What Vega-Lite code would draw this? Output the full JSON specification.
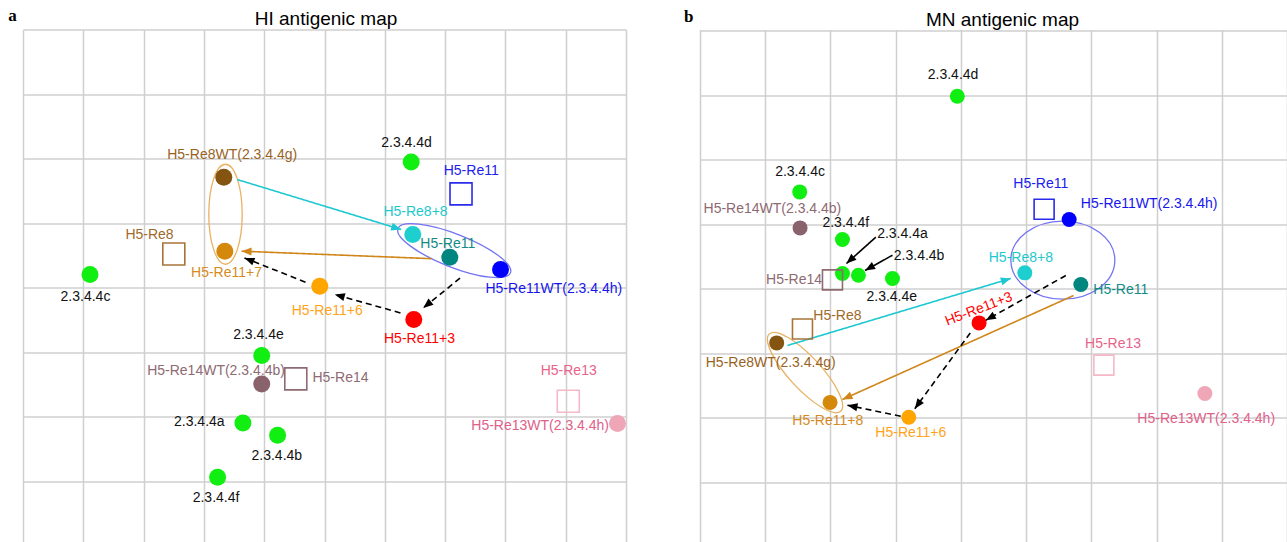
{
  "$schema": "https://vega.github.io/schema/vega-lite/v6.json",
  "background": "white",
  "padding": {"left": 8, "top": 6.5, "right": 0, "bottom": 0},
  "bounds": "flush",
  "spacing": 74,
  "config": {
    "view": {"stroke": null},
    "font": "Liberation Sans",
    "axis": {"labels": false, "ticks": false, "domain": false, "title": null, "gridColor": "#CFCFCF", "gridWidth": 1.5, "gridOpacity": 1}
  },
  "datasets": {
    "pa": [
      {"name": "2.3.4.4c", "kind": "antigen", "grp": "clade", "x": 1.111, "y": 3.798, "lx": 1.036, "ly": 4.146},
      {"name": "H5-Re8WT(2.3.4.4g)", "kind": "antigen", "grp": "Re8WT", "x": 3.330, "y": 2.290, "lx": 3.469, "ly": 1.938},
      {"name": "H5-Re11+7", "kind": "antigen", "grp": "Re11p7", "x": 3.347, "y": 3.437, "lx": 3.375, "ly": 3.774},
      {"name": "H5-Re8", "kind": "serum", "grp": "Re8", "x": 2.501, "y": 3.481, "lx": 2.098, "ly": 3.189},
      {"name": "2.3.4.4d", "kind": "antigen", "grp": "clade", "x": 6.438, "y": 2.053, "lx": 6.360, "ly": 1.758},
      {"name": "H5-Re11", "kind": "serum", "grp": "Re11sq", "x": 7.264, "y": 2.549, "lx": 7.433, "ly": 2.197},
      {"name": "H5-Re8+8", "kind": "antigen", "grp": "Re8p8", "x": 6.464, "y": 3.178, "lx": 6.509, "ly": 2.828},
      {"name": "H5-Re11", "kind": "antigen", "grp": "Re11", "x": 7.078, "y": 3.530, "lx": 7.045, "ly": 3.333},
      {"name": "H5-Re11WT(2.3.4.4h)", "kind": "antigen", "grp": "Re11WT", "x": 7.919, "y": 3.721, "lx": 8.803, "ly": 4.031},
      {"name": "H5-Re11+6", "kind": "antigen", "grp": "Re11p6", "x": 4.922, "y": 3.980, "lx": 5.045, "ly": 4.367},
      {"name": "H5-Re11+3", "kind": "antigen", "grp": "Re11p3", "x": 6.481, "y": 4.496, "lx": 6.575, "ly": 4.791},
      {"name": "2.3.4.4e", "kind": "antigen", "grp": "clade", "x": 3.959, "y": 5.054, "lx": 3.905, "ly": 4.729},
      {"name": "H5-Re14WT(2.3.4.4b)", "kind": "antigen", "grp": "Re14WT", "x": 3.959, "y": 5.495, "lx": 3.201, "ly": 5.287},
      {"name": "H5-Re14", "kind": "serum", "grp": "Re14sq", "x": 4.524, "y": 5.417, "lx": 5.265, "ly": 5.402},
      {"name": "H5-Re13", "kind": "serum", "grp": "Re13sq", "x": 9.043, "y": 5.763, "lx": 9.050, "ly": 5.298},
      {"name": "H5-Re13WT(2.3.4.4h)", "kind": "antigen", "grp": "Re13WT", "x": 9.859, "y": 6.109, "lx": 8.576, "ly": 6.140},
      {"name": "2.3.4.4a", "kind": "antigen", "grp": "clade", "x": 3.647, "y": 6.099, "lx": 2.924, "ly": 6.088},
      {"name": "2.3.4.4b", "kind": "antigen", "grp": "clade", "x": 4.222, "y": 6.290, "lx": 4.209, "ly": 6.616},
      {"name": "2.3.4.4f", "kind": "antigen", "grp": "clade", "x": 3.227, "y": 6.941, "lx": 3.201, "ly": 7.262}
    ],
    "pb": [
      {"name": "2.3.4.4d", "kind": "antigen", "grp": "clade", "x": 3.945, "y": 1.011, "lx": 3.880, "ly": 0.685},
      {"name": "2.3.4.4c", "kind": "antigen", "grp": "clade", "x": 1.529, "y": 2.495, "lx": 1.534, "ly": 2.184},
      {"name": "H5-Re14WT(2.3.4.4b)", "kind": "antigen", "grp": "Re14WT", "x": 1.534, "y": 3.053, "lx": 1.110, "ly": 2.767},
      {"name": "2.3.4.4f", "kind": "antigen", "grp": "clade", "x": 2.184, "y": 3.233, "lx": 2.235, "ly": 2.975},
      {"name": "2.3.4.4a", "kind": "antigen", "grp": "clade", "x": 2.184, "y": 3.760, "lx": 3.104, "ly": 3.155},
      {"name": "2.3.4.4b", "kind": "antigen", "grp": "clade", "x": 2.429, "y": 3.786, "lx": 3.359, "ly": 3.491},
      {"name": "2.3.4.4e", "kind": "antigen", "grp": "clade", "x": 2.951, "y": 3.837, "lx": 2.940, "ly": 4.127},
      {"name": "H5-Re14", "kind": "serum", "grp": "Re14sq", "x": 2.031, "y": 3.859, "lx": 1.442, "ly": 3.853},
      {"name": "H5-Re11", "kind": "serum", "grp": "Re11sq", "x": 5.276, "y": 2.763, "lx": 5.225, "ly": 2.371},
      {"name": "H5-Re11WT(2.3.4.4h)", "kind": "antigen", "grp": "Re11WT", "x": 5.660, "y": 2.922, "lx": 6.887, "ly": 2.690},
      {"name": "H5-Re8+8", "kind": "antigen", "grp": "Re8p8", "x": 4.980, "y": 3.750, "lx": 4.919, "ly": 3.527},
      {"name": "H5-Re11", "kind": "antigen", "grp": "Re11", "x": 5.839, "y": 3.930, "lx": 6.452, "ly": 4.008},
      {"name": "H5-Re11+3", "kind": "antigen", "grp": "Re11p3", "x": 4.279, "y": 4.526, "lx": 4.275, "ly": 4.313},
      {"name": "H5-Re8", "kind": "serum", "grp": "Re8", "x": 1.571, "y": 4.620, "lx": 2.107, "ly": 4.422},
      {"name": "H5-Re8WT(2.3.4.4g)", "kind": "antigen", "grp": "Re8WT", "x": 1.176, "y": 4.836, "lx": 1.084, "ly": 5.146},
      {"name": "H5-Re11+8", "kind": "antigen", "grp": "Re11p7", "x": 1.994, "y": 5.758, "lx": 1.959, "ly": 6.054},
      {"name": "H5-Re11+6", "kind": "antigen", "grp": "Re11p6", "x": 3.201, "y": 5.988, "lx": 3.232, "ly": 6.228},
      {"name": "H5-Re13", "kind": "serum", "grp": "Re13sq", "x": 6.192, "y": 5.181, "lx": 6.333, "ly": 4.851},
      {"name": "H5-Re13WT(2.3.4.4h)", "kind": "antigen", "grp": "Re13WT", "x": 7.741, "y": 5.620, "lx": 7.761, "ly": 6.008}
    ],
    "tag_a": [{"tag": "a", "x": -0.174, "y": -0.129}],
    "tag_b": [{"tag": "b", "x": -0.173, "y": -0.144}],
    "arrows_a": [
      {"kind": "re8", "fx": 3.552, "fy": 2.326, "tx": 6.272, "ty": 3.101},
      {"kind": "re11", "fx": 6.774, "fy": 3.553, "tx": 3.624, "ty": 3.437},
      {"kind": "passage", "fx": 7.247, "fy": 3.856, "tx": 6.637, "ty": 4.316},
      {"kind": "passage", "fx": 6.260, "fy": 4.394, "tx": 5.171, "ty": 4.109},
      {"kind": "passage", "fx": 4.685, "fy": 3.918, "tx": 3.673, "ty": 3.541}
    ],
    "arrows_b": [
      {"kind": "re8", "fx": 1.340, "fy": 4.876, "tx": 4.765, "ty": 3.837},
      {"kind": "re11", "fx": 5.727, "fy": 4.101, "tx": 2.184, "ty": 5.713},
      {"kind": "passage", "fx": 5.609, "fy": 3.791, "tx": 4.382, "ty": 4.484},
      {"kind": "passage", "fx": 4.144, "fy": 4.681, "tx": 3.293, "ty": 5.856},
      {"kind": "passage", "fx": 3.078, "fy": 5.972, "tx": 2.261, "ty": 5.802},
      {"kind": "pointer", "fx": 2.695, "fy": 3.197, "tx": 2.245, "ty": 3.605},
      {"kind": "pointer", "fx": 2.951, "fy": 3.476, "tx": 2.531, "ty": 3.713}
    ],
    "rings_a": [
      {"ring": "Re8 group", "x": 3.358, "y": 2.864},
      {"ring": "Re11 group", "x": 7.151, "y": 3.429}
    ],
    "rings_b": [
      {"ring": "Re11 group", "x": 5.563, "y": 3.553},
      {"ring": "Re8 group", "x": 1.610, "y": 5.295}
    ]
  },
  "hconcat": [
    {
      "width": 603,
      "height": 516,
      "title": {"text": "HI antigenic map", "fontSize": 19, "font": "Liberation Sans", "fontWeight": "normal", "color": "#000000", "frame": "group", "baseline": "alphabetic", "offset": 0, "dx": 1.5, "dy": 37.2},
      "resolve": {"scale": {"fill": "independent", "stroke": "independent", "color": "independent", "strokeDash": "independent"}},
      "layer": [
        {
          "data": {"name": "rings_a"},
          "transform": [{"filter": "datum.ring === 'Re8 group'"}],
          "mark": {"type": "point", "shape": "M-1,0C-1,-0.1845 -0.5523,-0.334 0,-0.334C0.5523,-0.334 1,-0.1845 1,0C1,0.1845 0.5523,0.334 0,0.334C-0.5523,0.334 -1,0.1845 -1,0Z", "size": 10000, "angle": 90, "filled": false, "stroke": "#E9B262", "strokeWidth": 1.3, "opacity": 1},
          "encoding": {
            "x": {"field": "x", "type": "quantitative", "scale": {"domain": [0, 10], "nice": false, "zero": false}, "axis": {"values": [0, 1, 2, 3, 4, 5, 6, 7, 8, 9, 10], "grid": true}},
            "y": {"field": "y", "type": "quantitative", "scale": {"domain": [0, 8], "nice": false, "zero": false, "reverse": true}, "axis": {"values": [0, 1, 2, 3, 4, 5, 6, 7, 8], "grid": true}}
          }
        },
        {
          "data": {"name": "rings_a"},
          "transform": [{"filter": "datum.ring === 'Re11 group'"}],
          "mark": {"type": "point", "shape": "M-1,0C-1,-0.1508 -0.5523,-0.273 0,-0.273C0.5523,-0.273 1,-0.1508 1,0C1,0.1508 0.5523,0.273 0,0.273C-0.5523,0.273 -1,0.1508 -1,0Z", "size": 14641, "angle": 21.5, "filled": false, "stroke": "#7474F2", "strokeWidth": 1.3, "opacity": 1},
          "encoding": {
            "x": {"field": "x", "type": "quantitative", "scale": {"domain": [0, 10], "nice": false, "zero": false}, "axis": {"values": [0, 1, 2, 3, 4, 5, 6, 7, 8, 9, 10], "grid": true}},
            "y": {"field": "y", "type": "quantitative", "scale": {"domain": [0, 8], "nice": false, "zero": false, "reverse": true}, "axis": {"values": [0, 1, 2, 3, 4, 5, 6, 7, 8], "grid": true}}
          }
        },
        {
          "data": {"name": "arrows_a"},
          "mark": {"type": "rule", "strokeWidth": 1.6},
          "encoding": {
            "x": {"field": "fx", "type": "quantitative", "scale": {"domain": [0, 10], "nice": false, "zero": false}, "axis": {"values": [0, 1, 2, 3, 4, 5, 6, 7, 8, 9, 10], "grid": true}},
            "y": {"field": "fy", "type": "quantitative", "scale": {"domain": [0, 8], "nice": false, "zero": false, "reverse": true}, "axis": {"values": [0, 1, 2, 3, 4, 5, 6, 7, 8], "grid": true}},
            "x2": {"field": "tx"},
            "y2": {"field": "ty"},
            "stroke": {"field": "kind", "type": "nominal", "scale": {"domain": ["passage", "re8", "re11", "pointer"], "range": ["#000000", "#1EC8D2", "#D0861A", "#000000"]}, "legend": null},
            "strokeDash": {"field": "kind", "type": "nominal", "scale": {"domain": ["passage", "re8", "re11", "pointer"], "range": [[6, 4], [1, 0], [1, 0], [1, 0]]}, "legend": null}
          }
        },
        {
          "data": {"name": "arrows_a"},
          "transform": [{"calculate": "atan2((datum.tx - datum.fx) * 60.3, -(datum.ty - datum.fy) * 64.5) * 180 / PI", "as": "ang"}],
          "mark": {"type": "point", "shape": "M0,0L-0.8,2L0.8,2Z", "size": 100, "filled": true, "strokeWidth": 0, "opacity": 1},
          "encoding": {
            "x": {"field": "tx", "type": "quantitative", "scale": {"domain": [0, 10], "nice": false, "zero": false}, "axis": {"values": [0, 1, 2, 3, 4, 5, 6, 7, 8, 9, 10], "grid": true}},
            "y": {"field": "ty", "type": "quantitative", "scale": {"domain": [0, 8], "nice": false, "zero": false, "reverse": true}, "axis": {"values": [0, 1, 2, 3, 4, 5, 6, 7, 8], "grid": true}},
            "angle": {"field": "ang", "type": "quantitative", "scale": null},
            "fill": {"field": "kind", "type": "nominal", "scale": {"domain": ["passage", "re8", "re11", "pointer"], "range": ["#000000", "#1EC8D2", "#D0861A", "#000000"]}, "legend": null}
          }
        },
        {
          "data": {"name": "pa"},
          "transform": [{"filter": "datum.kind === 'antigen'"}],
          "mark": {"type": "point", "shape": "circle", "size": 289, "filled": true, "strokeWidth": 0, "opacity": 1},
          "encoding": {
            "x": {"field": "x", "type": "quantitative", "scale": {"domain": [0, 10], "nice": false, "zero": false}, "axis": {"values": [0, 1, 2, 3, 4, 5, 6, 7, 8, 9, 10], "grid": true}},
            "y": {"field": "y", "type": "quantitative", "scale": {"domain": [0, 8], "nice": false, "zero": false, "reverse": true}, "axis": {"values": [0, 1, 2, 3, 4, 5, 6, 7, 8], "grid": true}},
            "fill": {"field": "grp", "type": "nominal", "scale": {"domain": ["clade", "Re8WT", "Re11p7", "Re11p6", "Re11p3", "Re8p8", "Re11", "Re11WT", "Re14WT", "Re13WT"], "range": ["#11EE11", "#845410", "#D4880C", "#FFA500", "#FF0000", "#1ECFCF", "#00857F", "#0000FF", "#8A626C", "#EFA6B6"]}, "legend": null}
          }
        },
        {
          "data": {"name": "pa"},
          "transform": [{"filter": "datum.kind === 'serum'"}],
          "mark": {"type": "point", "shape": "square", "size": 484, "filled": false, "strokeWidth": 1.6, "opacity": 1},
          "encoding": {
            "x": {"field": "x", "type": "quantitative", "scale": {"domain": [0, 10], "nice": false, "zero": false}, "axis": {"values": [0, 1, 2, 3, 4, 5, 6, 7, 8, 9, 10], "grid": true}},
            "y": {"field": "y", "type": "quantitative", "scale": {"domain": [0, 8], "nice": false, "zero": false, "reverse": true}, "axis": {"values": [0, 1, 2, 3, 4, 5, 6, 7, 8], "grid": true}},
            "stroke": {"field": "grp", "type": "nominal", "scale": {"domain": ["Re8", "Re11sq", "Re14sq", "Re13sq"], "range": ["#A87438", "#2B2BEE", "#8E6A72", "#F5B8C8"]}, "legend": null}
          }
        },
        {
          "data": {"name": "pa"},
          "mark": {"type": "text", "fontSize": 14, "font": "Liberation Sans", "align": "center", "baseline": "middle"},
          "encoding": {
            "x": {"field": "lx", "type": "quantitative", "scale": {"domain": [0, 10], "nice": false, "zero": false}, "axis": {"values": [0, 1, 2, 3, 4, 5, 6, 7, 8, 9, 10], "grid": true}},
            "y": {"field": "ly", "type": "quantitative", "scale": {"domain": [0, 8], "nice": false, "zero": false, "reverse": true}, "axis": {"values": [0, 1, 2, 3, 4, 5, 6, 7, 8], "grid": true}},
            "text": {"field": "name"},
            "color": {"field": "grp", "type": "nominal", "scale": {"domain": ["clade", "Re8WT", "Re11p7", "Re11p6", "Re11p3", "Re8p8", "Re11", "Re11WT", "Re14WT", "Re13WT", "Re8", "Re11sq", "Re14sq", "Re13sq"], "range": ["#111111", "#99631F", "#D68A22", "#FFA31A", "#FF0000", "#22C8CC", "#128A85", "#1515EE", "#8E6A72", "#E06088", "#A06A2A", "#2020EE", "#8E6A72", "#E8638A"]}, "legend": null}
          }
        },
        {
          "data": {"name": "tag_a"},
          "mark": {"type": "text", "fontSize": 17, "font": "Liberation Serif", "fontWeight": "bold", "align": "center", "baseline": "alphabetic", "color": "#000000"},
          "encoding": {
            "x": {"field": "x", "type": "quantitative", "scale": {"domain": [0, 10], "nice": false, "zero": false}, "axis": {"values": [0, 1, 2, 3, 4, 5, 6, 7, 8, 9, 10], "grid": true}},
            "y": {"field": "y", "type": "quantitative", "scale": {"domain": [0, 8], "nice": false, "zero": false, "reverse": true}, "axis": {"values": [0, 1, 2, 3, 4, 5, 6, 7, 8], "grid": true}},
            "text": {"field": "tag"}
          }
        }
      ]
    },
    {
      "width": 587,
      "height": 517.5,
      "title": {"text": "MN antigenic map", "fontSize": 19, "font": "Liberation Sans", "fontWeight": "normal", "color": "#000000", "frame": "group", "baseline": "alphabetic", "offset": 0, "dx": 9, "dy": 37.2},
      "resolve": {"scale": {"fill": "independent", "stroke": "independent", "color": "independent", "strokeDash": "independent"}},
      "layer": [
        {
          "data": {"name": "rings_b"},
          "transform": [{"filter": "datum.ring === 'Re8 group'"}],
          "mark": {"type": "point", "shape": "M-1,0C-1,-0.1679 -0.5523,-0.304 0,-0.304C0.5523,-0.304 1,-0.1679 1,0C1,0.1679 0.5523,0.304 0,0.304C-0.5523,0.304 -1,0.1679 -1,0Z", "size": 11067, "angle": 47.3, "filled": false, "stroke": "#E9B262", "strokeWidth": 1.3, "opacity": 1},
          "encoding": {
            "x": {"field": "x", "type": "quantitative", "scale": {"domain": [0, 9], "nice": false, "zero": false}, "axis": {"values": [0, 1, 2, 3, 4, 5, 6, 7, 8, 9], "grid": true}},
            "y": {"field": "y", "type": "quantitative", "scale": {"domain": [-0.023, 8], "nice": false, "zero": false, "reverse": true}, "axis": {"values": [0, 1, 2, 3, 4, 5, 6, 7, 8], "grid": true}}
          }
        },
        {
          "data": {"name": "rings_b"},
          "transform": [{"filter": "datum.ring === 'Re11 group'"}],
          "mark": {"type": "point", "shape": "M-1,0C-1,-0.4142 -0.5523,-0.75 0,-0.75C0.5523,-0.75 1,-0.4142 1,0C1,0.4142 0.5523,0.75 0,0.75C-0.5523,0.75 -1,0.4142 -1,0Z", "size": 10816, "angle": 0, "filled": false, "stroke": "#7474F2", "strokeWidth": 1.3, "opacity": 1},
          "encoding": {
            "x": {"field": "x", "type": "quantitative", "scale": {"domain": [0, 9], "nice": false, "zero": false}, "axis": {"values": [0, 1, 2, 3, 4, 5, 6, 7, 8, 9], "grid": true}},
            "y": {"field": "y", "type": "quantitative", "scale": {"domain": [-0.023, 8], "nice": false, "zero": false, "reverse": true}, "axis": {"values": [0, 1, 2, 3, 4, 5, 6, 7, 8], "grid": true}}
          }
        },
        {
          "data": {"name": "arrows_b"},
          "mark": {"type": "rule", "strokeWidth": 1.6},
          "encoding": {
            "x": {"field": "fx", "type": "quantitative", "scale": {"domain": [0, 9], "nice": false, "zero": false}, "axis": {"values": [0, 1, 2, 3, 4, 5, 6, 7, 8, 9], "grid": true}},
            "y": {"field": "fy", "type": "quantitative", "scale": {"domain": [-0.023, 8], "nice": false, "zero": false, "reverse": true}, "axis": {"values": [0, 1, 2, 3, 4, 5, 6, 7, 8], "grid": true}},
            "x2": {"field": "tx"},
            "y2": {"field": "ty"},
            "stroke": {"field": "kind", "type": "nominal", "scale": {"domain": ["passage", "re8", "re11", "pointer"], "range": ["#000000", "#1EC8D2", "#D0861A", "#000000"]}, "legend": null},
            "strokeDash": {"field": "kind", "type": "nominal", "scale": {"domain": ["passage", "re8", "re11", "pointer"], "range": [[6, 4], [1, 0], [1, 0], [1, 0]]}, "legend": null}
          }
        },
        {
          "data": {"name": "arrows_b"},
          "transform": [{"calculate": "atan2((datum.tx - datum.fx) * 65.2, -(datum.ty - datum.fy) * 64.5) * 180 / PI", "as": "ang"}],
          "mark": {"type": "point", "shape": "M0,0L-0.8,2L0.8,2Z", "size": 100, "filled": true, "strokeWidth": 0, "opacity": 1},
          "encoding": {
            "x": {"field": "tx", "type": "quantitative", "scale": {"domain": [0, 9], "nice": false, "zero": false}, "axis": {"values": [0, 1, 2, 3, 4, 5, 6, 7, 8, 9], "grid": true}},
            "y": {"field": "ty", "type": "quantitative", "scale": {"domain": [-0.023, 8], "nice": false, "zero": false, "reverse": true}, "axis": {"values": [0, 1, 2, 3, 4, 5, 6, 7, 8], "grid": true}},
            "angle": {"field": "ang", "type": "quantitative", "scale": null},
            "fill": {"field": "kind", "type": "nominal", "scale": {"domain": ["passage", "re8", "re11", "pointer"], "range": ["#000000", "#1EC8D2", "#D0861A", "#000000"]}, "legend": null}
          }
        },
        {
          "data": {"name": "pb"},
          "transform": [{"filter": "datum.kind === 'antigen'"}],
          "mark": {"type": "point", "shape": "circle", "size": 225, "filled": true, "strokeWidth": 0, "opacity": 1},
          "encoding": {
            "x": {"field": "x", "type": "quantitative", "scale": {"domain": [0, 9], "nice": false, "zero": false}, "axis": {"values": [0, 1, 2, 3, 4, 5, 6, 7, 8, 9], "grid": true}},
            "y": {"field": "y", "type": "quantitative", "scale": {"domain": [-0.023, 8], "nice": false, "zero": false, "reverse": true}, "axis": {"values": [0, 1, 2, 3, 4, 5, 6, 7, 8], "grid": true}},
            "fill": {"field": "grp", "type": "nominal", "scale": {"domain": ["clade", "Re8WT", "Re11p7", "Re11p6", "Re11p3", "Re8p8", "Re11", "Re11WT", "Re14WT", "Re13WT"], "range": ["#11EE11", "#845410", "#D4880C", "#FFA500", "#FF0000", "#1ECFCF", "#00857F", "#0000FF", "#8A626C", "#EFA6B6"]}, "legend": null}
          }
        },
        {
          "data": {"name": "pb"},
          "transform": [{"filter": "datum.kind === 'serum'"}],
          "mark": {"type": "point", "shape": "square", "size": 400, "filled": false, "strokeWidth": 1.6, "opacity": 1},
          "encoding": {
            "x": {"field": "x", "type": "quantitative", "scale": {"domain": [0, 9], "nice": false, "zero": false}, "axis": {"values": [0, 1, 2, 3, 4, 5, 6, 7, 8, 9], "grid": true}},
            "y": {"field": "y", "type": "quantitative", "scale": {"domain": [-0.023, 8], "nice": false, "zero": false, "reverse": true}, "axis": {"values": [0, 1, 2, 3, 4, 5, 6, 7, 8], "grid": true}},
            "stroke": {"field": "grp", "type": "nominal", "scale": {"domain": ["Re8", "Re11sq", "Re14sq", "Re13sq"], "range": ["#A87438", "#2B2BEE", "#8E6A72", "#F5B8C8"]}, "legend": null}
          }
        },
        {
          "data": {"name": "pb"},
          "transform": [{"filter": "datum.grp !== 'Re11p3'"}],
          "mark": {"type": "text", "fontSize": 14, "font": "Liberation Sans", "align": "center", "baseline": "middle"},
          "encoding": {
            "x": {"field": "lx", "type": "quantitative", "scale": {"domain": [0, 9], "nice": false, "zero": false}, "axis": {"values": [0, 1, 2, 3, 4, 5, 6, 7, 8, 9], "grid": true}},
            "y": {"field": "ly", "type": "quantitative", "scale": {"domain": [-0.023, 8], "nice": false, "zero": false, "reverse": true}, "axis": {"values": [0, 1, 2, 3, 4, 5, 6, 7, 8], "grid": true}},
            "text": {"field": "name"},
            "color": {"field": "grp", "type": "nominal", "scale": {"domain": ["clade", "Re8WT", "Re11p7", "Re11p6", "Re11p3", "Re8p8", "Re11", "Re11WT", "Re14WT", "Re13WT", "Re8", "Re11sq", "Re14sq", "Re13sq"], "range": ["#111111", "#99631F", "#D68A22", "#FFA31A", "#FF0000", "#22C8CC", "#128A85", "#1515EE", "#8E6A72", "#E06088", "#A06A2A", "#2020EE", "#8E6A72", "#E8638A"]}, "legend": null}
          }
        },
        {
          "data": {"name": "pb"},
          "transform": [{"filter": "datum.grp === 'Re11p3'"}],
          "mark": {"type": "text", "fontSize": 14, "font": "Liberation Sans", "align": "center", "baseline": "middle", "angle": -21, "color": "#FF0000"},
          "encoding": {
            "x": {"field": "lx", "type": "quantitative", "scale": {"domain": [0, 9], "nice": false, "zero": false}, "axis": {"values": [0, 1, 2, 3, 4, 5, 6, 7, 8, 9], "grid": true}},
            "y": {"field": "ly", "type": "quantitative", "scale": {"domain": [-0.023, 8], "nice": false, "zero": false, "reverse": true}, "axis": {"values": [0, 1, 2, 3, 4, 5, 6, 7, 8], "grid": true}},
            "text": {"field": "name"}
          }
        },
        {
          "data": {"name": "tag_b"},
          "mark": {"type": "text", "fontSize": 17, "font": "Liberation Serif", "fontWeight": "bold", "align": "center", "baseline": "alphabetic", "color": "#000000"},
          "encoding": {
            "x": {"field": "x", "type": "quantitative", "scale": {"domain": [0, 9], "nice": false, "zero": false}, "axis": {"values": [0, 1, 2, 3, 4, 5, 6, 7, 8, 9], "grid": true}},
            "y": {"field": "y", "type": "quantitative", "scale": {"domain": [-0.023, 8], "nice": false, "zero": false, "reverse": true}, "axis": {"values": [0, 1, 2, 3, 4, 5, 6, 7, 8], "grid": true}},
            "text": {"field": "tag"}
          }
        }
      ]
    }
  ]
}
